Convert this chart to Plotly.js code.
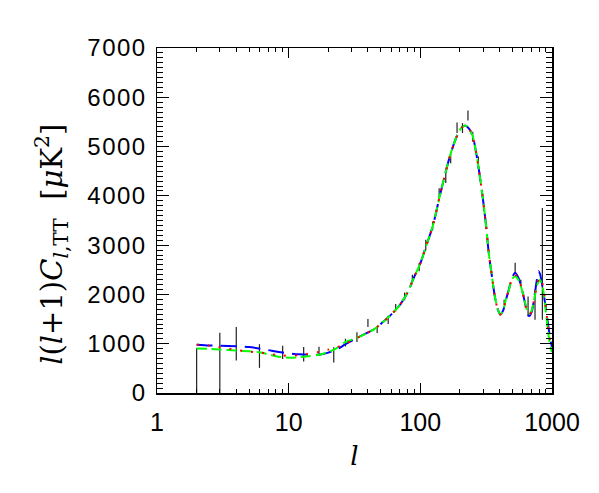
<!DOCTYPE html>
<html>
<head>
<meta charset="utf-8">
<script src="https://cdn.plot.ly/plotly-3.0.1.min.js"></script>
<style>
  html, body { margin: 0; padding: 0; background: #fff; }
  #chart { width: 599px; height: 493px; }
  .ytick text { letter-spacing: 1.5px; }
</style>
</head>
<body>
<div id="chart"></div>
<script>
// Multipole grid for the model curves
const ell = [2, 2.5, 3, 4, 5, 6, 7, 8, 9, 10, 12, 14, 17, 20, 23, 27, 32, 38, 45, 52, 60, 70, 80, 90, 100,
             110, 125, 140, 155, 170, 190, 205, 220, 235, 250, 270, 295, 315, 330, 350, 367, 385, 405,
             425, 445, 470, 495, 525, 560, 600, 640, 670, 700, 730, 770, 790, 810, 850, 890, 930, 970, 1000];

// Model A (blue, long dash)
const modelBlue = [980, 965, 960, 948, 932, 900, 870, 840, 820, 805, 785, 777, 777, 820, 878, 990, 1100, 1200, 1300, 1440, 1590, 1790, 2040, 2360, 2630,
                   2960, 3410, 3980, 4460, 4860, 5220, 5380, 5425, 5360, 5210, 4760, 4050, 3420, 2870, 2360, 1980, 1720, 1590,
                   1670, 1870, 2100, 2320, 2440, 2320, 2030, 1700, 1560, 1640, 1900, 2320, 2470, 2420, 2130, 1790, 1420, 1100, 930];

// Model B (red, dotted)
const modelRed = [980, 960, 930, 875, 840, 822, 795, 775, 760, 755, 770, 795, 835, 880, 925, 1000, 1100, 1200, 1300, 1440, 1590, 1790, 2040, 2360, 2630,
                  2960, 3410, 3980, 4460, 4860, 5220, 5380, 5425, 5360, 5210, 4760, 4050, 3420, 2870, 2360, 1980, 1720, 1595,
                  1675, 1875, 2095, 2310, 2400, 2300, 2030, 1700, 1590, 1660, 1880, 2200, 2300, 2340, 2200, 1850, 1380, 1050, 900];

// Model C (green, dashed)
const modelGreen = [905, 895, 882, 860, 845, 828, 785, 745, 725, 715, 725, 745, 775, 830, 905, 1035, 1105, 1195, 1300, 1440, 1590, 1790, 2040, 2360, 2630,
                    2960, 3410, 3980, 4460, 4860, 5220, 5380, 5425, 5360, 5210, 4760, 4050, 3420, 2870, 2360, 1980, 1720, 1595,
                    1680, 1880, 2090, 2300, 2370, 2280, 2030, 1720, 1600, 1670, 1890, 2180, 2260, 2300, 2140, 1750, 1280, 950, 830];

// Binned measurements (centre and 1-sigma half-width)
const dataL = [2, 3, 4, 6, 9, 13, 17, 22, 27, 33, 40, 47, 57, 65, 76, 87, 98, 110, 124, 139, 156, 170, 190, 209, 230, 250, 276, 302, 337, 433, 525, 580, 658, 743, 845];
const dataV = [440, 600, 1000, 750, 825, 787, 845, 775, 1023, 1135, 1420, 1284, 1484, 1730, 1960, 2315, 2553, 3000, 3390, 4056, 4365, 4775, 5382, 5375, 5630, 5200, 4680, 3740, 2650, 1840, 2540, 2230, 1757, 1790, 2620];
const dataE = [470, 620, 339, 240, 135, 146, 95, 155, 78, 100, 80, 67, 84, 75, 80, 85, 85, 110, 90, 100, 105, 115, 108, 100, 100, 100, 120, 50, 50, 50, 105, 68, 203, 304, 1133];

const xTickVals = [1, 10, 100, 1000];
const xTickText = ['1', '10', '100', '1000'];
const yTickVals = [0, 1000, 2000, 3000, 4000, 5000, 6000, 7000];
const yTitle = '<i>l</i>(<i>l</i>+1)<i>C</i><sub><i>l</i>,TT</sub>  [<i>μ</i>K<sup>2</sup>]';
const xTitle = '<i>l</i>';

const traces = [
  {
    x: dataL, y: dataV, type: 'scatter', mode: 'markers',
    marker: { size: 1, color: 'rgba(0,0,0,0)' },
    error_y: { type: 'data', array: dataE, visible: true, width: 0, thickness: 1.2, color: '#222' },
    hoverinfo: 'skip', showlegend: false
  },
  {
    x: ell, y: modelBlue, type: 'scatter', mode: 'lines',
    line: { color: '#0000ff', width: 2, dash: '16px,8px', shape: 'spline', smoothing: 0.8 },
    showlegend: false
  },
  {
    x: ell, y: modelGreen, type: 'scatter', mode: 'lines',
    line: { color: '#00ff00', width: 2, dash: '10px,5px', shape: 'spline', smoothing: 0.8 },
    showlegend: false
  },
  {
    x: ell, y: modelRed, type: 'scatter', mode: 'lines',
    line: { color: '#ff0000', width: 2, dash: '2px,9px', shape: 'spline', smoothing: 0.8 },
    showlegend: false
  }
];

const layout = {
  width: 599, height: 493,
  margin: { l: 157, r: 47, t: 48, b: 100 },
  paper_bgcolor: '#ffffff', plot_bgcolor: '#ffffff',
  showlegend: false,
  font: { family: 'Liberation Sans, sans-serif', color: '#000' },
  xaxis: {
    type: 'log', range: [0, 3],
    tickvals: xTickVals, ticktext: xTickText,
    ticks: 'inside', ticklen: 10, tickwidth: 1, tickcolor: '#000',
    minor: { ticks: 'inside', ticklen: 4, tickwidth: 1, tickcolor: '#000', dtick: 'D1', showgrid: false },
    showline: true, linecolor: '#000', linewidth: 1.5, mirror: 'ticks',
    showgrid: false, zeroline: false,
    ticklabelstandoff: 6,
    tickfont: { family: 'Liberation Sans, sans-serif', size: 25, color: '#000' },
    title: { text: xTitle, font: { family: 'DejaVu Serif, serif', size: 26, color: '#000' }, standoff: 12 }
  },
  yaxis: {
    range: [0, 7000],
    tickvals: yTickVals,
    ticks: 'inside', ticklen: 12, tickwidth: 1, tickcolor: '#000',
    minor: { ticks: 'inside', ticklen: 6, tickwidth: 1, tickcolor: '#000', dtick: 100, showgrid: false },
    showline: true, linecolor: '#000', linewidth: 1.5, mirror: 'ticks',
    showgrid: false, zeroline: false,
    ticklabelstandoff: 4,
    tickfont: { family: 'Liberation Sans, sans-serif', size: 24, color: '#000' }
  },
  annotations: [{
    text: yTitle, textangle: -90,
    xref: 'paper', yref: 'paper', x: -0.268, y: 0.43,
    xanchor: 'center', yanchor: 'middle', showarrow: false,
    font: { family: 'DejaVu Serif, serif', size: 29, color: '#000' }
  }]
};

Plotly.newPlot('chart', traces, layout, { staticPlot: true, displayModeBar: false });
</script>
</body>
</html>
